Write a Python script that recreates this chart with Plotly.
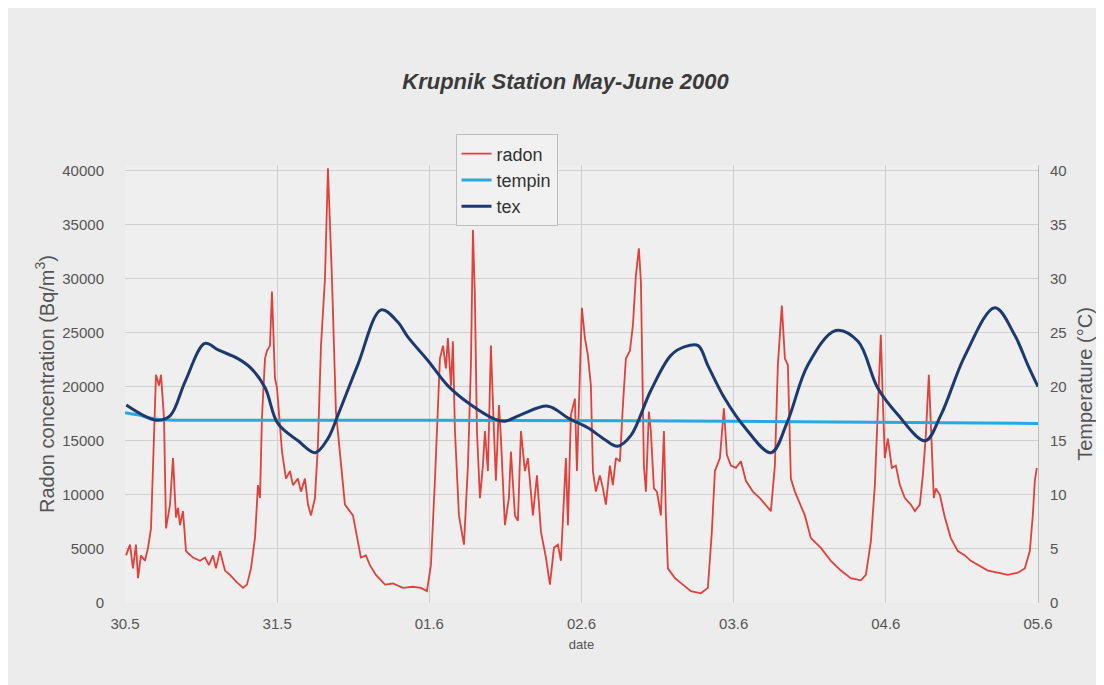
import pandas as pd
import plotly.graph_objects as go

# hours after 30.5.2000 00:00 and values
radon_h = [0.16, 0.79, 1.26, 1.73, 2.05, 2.52, 3.15, 3.63, 4.10, 4.73, 4.89, 5.36, 5.68, 6.15,
           6.47, 7.10, 7.57, 8.04, 8.36, 8.67, 9.15, 9.62, 10.72, 11.83, 12.62, 13.25, 13.88,
           14.35, 14.98, 15.77, 16.56, 17.50, 18.61, 19.24, 19.87, 20.50, 20.97, 21.29,
           21.60, 22.08, 22.39, 22.87, 23.18, 23.65, 23.97, 24.44, 24.76, 25.39, 26.02,
           26.49, 27.28, 27.75, 28.38, 28.86, 29.33, 29.96, 30.43, 30.91, 31.54, 32.01,
           32.64, 33.27, 33.90, 34.69, 35.95, 36.74, 37.21, 38.00, 38.63, 39.58, 41.00,
           42.26, 43.84, 45.41, 46.68, 47.62, 48.25, 48.88, 49.36, 49.67, 50.15, 50.62,
           50.93, 51.41, 51.72, 52.04, 52.67, 53.46, 54.09, 54.56, 54.88, 55.19, 55.51,
           55.98, 56.45, 56.77, 57.24, 57.71, 58.19, 58.50, 58.98, 59.29, 59.92, 60.55,
           60.87, 61.50, 61.97, 62.45, 63.08, 63.55, 64.34, 64.97, 65.60, 66.39, 67.02,
           67.65, 68.28, 68.75, 69.54, 69.86, 70.33, 70.96, 71.28, 71.75, 72.06, 72.54,
           73.01, 73.48, 73.80, 74.27, 74.90, 75.38, 75.85, 76.48, 76.95, 77.43, 78.06,
           78.53, 79.00, 79.63, 80.11, 80.58, 81.05, 81.37, 81.84, 82.16, 82.63, 82.94,
           83.42, 83.89, 84.52, 85.00, 85.31, 85.63, 86.73, 87.99, 89.25, 90.83, 91.93,
           92.56, 93.04, 93.83, 94.46, 94.93, 95.56, 96.35, 97.14, 97.93, 99.03, 100.13,
           101.08, 101.87, 102.50, 102.97, 103.60, 104.08, 104.55, 105.02, 105.65, 107.23,
           108.18, 109.75, 111.33, 112.91, 114.48, 116.06, 116.85, 117.64, 118.27, 118.74,
           119.21, 119.53, 119.84, 120.32, 120.95, 121.58, 122.21, 123.00, 123.94, 124.58,
           125.36, 125.84, 126.31, 126.78, 127.10, 127.57, 127.89, 128.52, 129.31, 130.25,
           131.36, 132.46, 133.41, 134.82, 136.09, 137.66, 139.24, 140.82, 141.92, 142.71,
           143.18, 143.50, 143.81]
radon = [4400, 5400, 3200, 5400, 2300, 4400, 3900, 5100, 6900, 17100, 21100, 20100, 21100,
         17100, 6900, 9100, 13400, 7900, 8800, 7200, 8500, 4800, 4200, 3900, 4200, 3500,
         4400, 3200, 4800, 3000, 2600, 2000, 1400, 1700, 3200, 6000, 10900, 9700, 17100,
         22600, 23300, 23800, 28800, 20800, 19900, 16400, 14000, 11500, 12200, 10900, 11500,
         10300, 11500, 9100, 8100, 9700, 14600, 23800, 30000, 40200, 30000, 17700, 14000,
         9100, 8100, 5500, 4200, 4400, 3500, 2600, 1700, 1800, 1400, 1500, 1400, 1100, 3500,
         11300, 18900, 22600, 23800, 21700, 24500, 20100, 24200, 15900, 8100, 5400, 12700,
         22000, 34500, 28200, 15900, 9700, 12700, 15900, 12200, 23800, 15900, 11300, 18300,
         15200, 7200, 9700, 14000, 8100, 7600, 15900, 12200, 13400, 8100, 11800, 6600, 4200,
         1700, 5100, 5400, 3900, 13400, 7200, 17400, 18900, 12200, 22000, 27300, 24500,
         22900, 20100, 12200, 10300, 11800, 10600, 9100, 12700, 10900, 13400, 13100, 18300,
         22600, 23300, 25700, 30300, 32800, 29700, 12700, 10300, 17700, 15900, 10600, 10300,
         8100, 15900, 8100, 3200, 2300, 1700, 1100, 900, 1400, 6600, 12200, 13400, 18000,
         13700, 12700, 12500, 13100, 11300, 10300, 9700, 9100, 8500, 12700, 22000, 27500,
         22600, 22000, 11500, 10300, 8100, 6000, 5100, 3900, 3000, 2300, 2100, 2600, 5700,
         10900, 18000, 24800, 18700, 13400, 15200, 12500, 12700, 10900, 9700, 9100, 8500,
         9100, 11800, 15500, 21100, 16400, 9700, 10600, 10000, 7900, 6000, 4800, 4400, 3900,
         3400, 3000, 2800, 2600, 2800, 3200, 4800, 8100, 11300, 12500]

tempin_h = [0, 2.0, 5.0, 12, 48, 96, 144]
tempin = [17.6, 17.4, 17.0, 16.9, 16.9, 16.8, 16.6]

tex_h = [0.2, 4.9, 7.1, 9.5, 12.6, 14.7, 17.8, 19.9, 22.1, 24.1, 27.3, 30.0, 32.0, 33.6,
         36.7, 40.4, 43.0, 44.6, 47.8, 50.9, 54.6, 58.3, 59.9, 62.4, 66.7, 69.9, 73.0,
         75.7, 77.7, 79.8, 82.9, 86.1, 88.3, 90.4, 91.9, 94.6, 97.8, 101.9, 104.5, 107.7,
         112.1, 115.6, 118.7, 121.9, 126.2, 128.7, 132.5, 137.2, 140.3, 142.4, 144.0]
tex = [18.3, 16.9, 17.3, 20.5, 24.0, 23.4, 22.6, 21.7, 19.9, 16.6, 15.0, 13.9, 15.2, 17.4,
       22.0, 27.1, 26.0, 24.6, 22.4, 20.1, 18.3, 17.0, 16.8, 17.4, 18.2, 17.1, 16.2, 15.1,
       14.5, 15.5, 19.6, 22.9, 23.7, 23.8, 22.0, 18.9, 16.2, 13.9, 16.8, 22.0, 25.2, 24.2,
       19.9, 17.4, 15.0, 17.4, 22.9, 27.3, 24.8, 22.0, 20.0]

tick_dates = ["2000-05-30", "2000-05-31", "2000-06-01", "2000-06-02",
              "2000-06-03", "2000-06-04", "2000-06-05"]
tick_labels = ["30.5", "31.5", "01.6", "02.6", "03.6", "04.6", "05.6"]

start = pd.Timestamp("2000-05-30")


def to_time(hours):
    return start + pd.to_timedelta(hours, unit="h")


fig = go.Figure()
fig.add_trace(go.Scatter(x=to_time(radon_h), y=radon, name="radon", mode="lines",
                         line=dict(color="#e2403a", width=1.8)))
fig.add_trace(go.Scatter(x=to_time(tempin_h), y=tempin, name="tempin", mode="lines",
                         yaxis="y2", line=dict(color="#27a8e0", width=3, shape="spline")))
fig.add_trace(go.Scatter(x=to_time(tex_h), y=tex, name="tex", mode="lines",
                         yaxis="y2", line=dict(color="#1d3a70", width=3, shape="spline")))

font = "Liberation Sans, Arial, sans-serif"
fig.update_layout(
    width=1104, height=685,
    margin=dict(l=117, r=74, t=157, b=90),
    paper_bgcolor="#ececec", plot_bgcolor="#efefef",
    font=dict(family=font, size=15, color="#555"),
    title=dict(text="<b><i>Krupnik Station May-June 2000</i></b>", x=0.505, xanchor="center",
               y=1 - 73 / 685, yanchor="middle", font=dict(size=22, color="#3a3a3a")),
    showlegend=True,
    legend=dict(x=0.362, y=1.07, xanchor="left", yanchor="top", bgcolor="#f1f1f1",
                bordercolor="#bdbdbd", borderwidth=1, font=dict(size=18, color="#333"),
                itemwidth=30),
    xaxis=dict(type="date", range=["2000-05-30", "2000-06-05"],
               tickvals=tick_dates, ticktext=tick_labels,
               showgrid=True, gridcolor="#cfcfcf", gridwidth=1,
               showline=False, zeroline=False, ticks="", ticklabelstandoff=10,
               title=dict(text="date", font=dict(size=13, color="#555"), standoff=8)),
    yaxis=dict(range=[0, 40500], tickvals=list(range(0, 40001, 5000)), tickformat="d",
               showgrid=True, gridcolor="#cfcfcf", gridwidth=1, zeroline=False,
               ticks="", ticklabelstandoff=20,
               title=dict(text="Radon concentration (Bq/m<sup>3</sup>)",
                          font=dict(size=20, color="#555"), standoff=2)),
    yaxis2=dict(range=[0, 40.5], tickvals=list(range(0, 41, 5)), overlaying="y",
                side="right", showgrid=False, zeroline=False, showline=True,
                linecolor="#bdbdbd", ticks="", ticklabelstandoff=8,
                title=dict(text="Temperature (°C)", font=dict(size=20, color="#555"),
                           standoff=12)),
)

fig.write_html("out.html")
